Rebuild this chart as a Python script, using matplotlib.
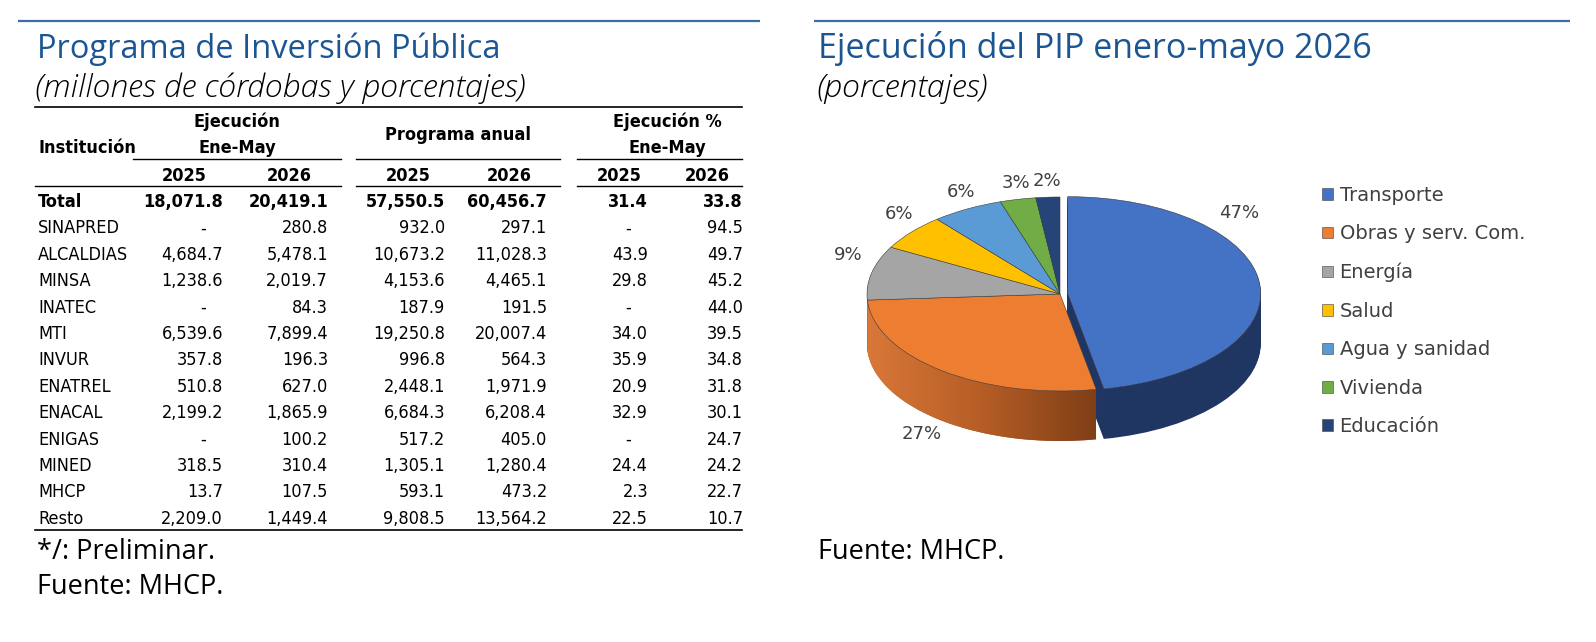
import os
import numpy as np
import matplotlib
matplotlib.use('Agg')
import matplotlib.pyplot as plt
from matplotlib import font_manager as fm
from matplotlib.patches import Polygon
from matplotlib.colors import LinearSegmentedColormap

# ---- datos de la tabla (millones de cordobas y porcentajes) ----
instituciones = ['Total', 'SINAPRED', 'ALCALDIAS', 'MINSA', 'INATEC', 'MTI', 'INVUR',
                 'ENATREL', 'ENACAL', 'ENIGAS', 'MINED', 'MHCP', 'Resto']
ejec_2025 = [18071.8, None, 4684.7, 1238.6, None, 6539.6, 357.8,
             510.8, 2199.2, None, 318.5, 13.7, 2209.0]
ejec_2026 = [20419.1, 280.8, 5478.1, 2019.7, 84.3, 7899.4, 196.3,
             627.0, 1865.9, 100.2, 310.4, 107.5, 1449.4]
prog_2025 = [57550.5, 932.0, 10673.2, 4153.6, 187.9, 19250.8, 996.8,
             2448.1, 6684.3, 517.2, 1305.1, 593.1, 9808.5]
prog_2026 = [60456.7, 297.1, 11028.3, 4465.1, 191.5, 20007.4, 564.3,
             1971.9, 6208.4, 405.0, 1280.4, 473.2, 13564.2]
pct_2025 = [31.4, None, 43.9, 29.8, None, 34.0, 35.9,
            20.9, 32.9, None, 24.4, 2.3, 22.5]
pct_2026 = [33.8, 94.5, 49.7, 45.2, 44.0, 39.5, 34.8,
            31.8, 30.1, 24.7, 24.2, 22.7, 10.7]
years = ['2025', '2026']

# ---- datos del pastel (porcentajes) ----
sectores = ['Transporte', 'Obras y serv. Com.', 'Energía', 'Salud',
            'Agua y sanidad', 'Vivienda', 'Educación']
participacion = [47, 27, 9, 6, 6, 3, 2]

# ---- estilo ----
W, H = 1596, 642
BLUE = '#1B5693'
RULE_BLUE = '#3A6EA5'
top_colors = ['#4472C4', '#ED7D31', '#A5A5A5', '#FFC000', '#5B9BD5', '#70AD47', '#264478']
wall_colors = ['#1F3562', '#B55E26', '#6E6E6E', '#B08500', '#3B6E9E', '#4C7A30', '#18294A']


def table_font():
  files = [os.path.basename(f.fname) for f in fm.fontManager.ttflist]
  names = {f.name for f in fm.fontManager.ttflist}
  if any('DejaVuSansCondensed' in f for f in files):
    return dict(family='DejaVu Sans', fontstretch='condensed'), 13
  if 'Liberation Sans Narrow' in names:
    return dict(family='Liberation Sans Narrow'), 14
  return dict(family='DejaVu Sans'), 11.5


def pick_weight(name, style, weight):
  # usa la variante pedida si esta instalada, si no la normal
  for f in fm.fontManager.ttflist:
    if f.name == name and f.style == style and f.weight == weight:
      return weight
  return 'normal'


def fmt(v):
  if v is None:
    return '-'
  return '{:,.1f}'.format(v)


TF, TSIZE = table_font()
HEAD = ['Open Sans', 'DejaVu Sans']
SUB_W = pick_weight('Open Sans', 'italic', 300)
TIT_W = pick_weight('Open Sans', 'normal', 500)

fig = plt.figure(figsize=(W / 100, H / 100), dpi=100)
ax = fig.add_axes([0, 0, 1, 1])
ax.set_xlim(0, W)
ax.set_ylim(H, 0)
ax.axis('off')

# lineas superiores azules
ax.plot([18, 760], [21, 21], color=RULE_BLUE, lw=1.6, solid_capstyle='butt')
ax.plot([814, 1570], [21, 21], color=RULE_BLUE, lw=1.6, solid_capstyle='butt')

# titulos
ax.text(37, 58, 'Programa de Inversión Pública', family=HEAD, fontsize=23.5,
        weight=TIT_W, color=BLUE, va='baseline')
ax.text(35, 97, '(millones de córdobas y porcentajes)', family=HEAD, fontsize=23,
        style='italic', weight=SUB_W, color='black', va='baseline')
ax.text(818, 58, 'Ejecución del PIP enero-mayo 2026', family=HEAD, fontsize=24.5,
        weight=TIT_W, color=BLUE, va='baseline')
ax.text(816, 97, '(porcentajes)', family=HEAD, fontsize=23,
        style='italic', weight=SUB_W, color='black', va='baseline')

# ---- tabla ----
col_right = [223, 328, 445, 547, 648, 743]
col_year = [184, 289, 408, 509, 619, 707]
groups = [('Ejecución\nEne-May', 237, (133, 341)),
          ('Programa anual', 458, (356, 560)),
          ('Ejecución %\nEne-May', 667, (577, 742))]

ax.plot([35, 742], [107, 107], color='black', lw=1.2)
ax.text(38, 153, 'Institución', fontsize=TSIZE, weight='bold', va='baseline', **TF)
for label, xc, (x0, x1) in groups:
  lines = label.split('\n')
  if len(lines) == 2:
    ax.text(xc, 127, lines[0], fontsize=TSIZE, weight='bold', ha='center', va='baseline', **TF)
    ax.text(xc, 153, lines[1], fontsize=TSIZE, weight='bold', ha='center', va='baseline', **TF)
  else:
    ax.text(xc, 140, label, fontsize=TSIZE, weight='bold', ha='center', va='baseline', **TF)
  ax.plot([x0, x1], [159, 159], color='black', lw=1.0)
  ax.plot([35 if x0 == 133 else x0, x1], [186, 186], color='black', lw=1.0)
for i, xc in enumerate(col_year):
  ax.text(xc, 181, years[i % 2], fontsize=TSIZE, weight='bold', ha='center', va='baseline', **TF)

columns = [ejec_2025, ejec_2026, prog_2025, prog_2026, pct_2025, pct_2026]
row_h = 26.4
for r, name in enumerate(instituciones):
  yb = 207 + r * row_h
  w = 'bold' if r == 0 else 'normal'
  ax.text(38, yb, name, fontsize=TSIZE, weight=w, va='baseline', **TF)
  for c, vals in enumerate(columns):
    v = vals[r]
    if v is None:
      ax.text(col_right[c] - 20, yb, '-', fontsize=TSIZE, weight=w, ha='center', va='baseline', **TF)
    else:
      ax.text(col_right[c], yb, fmt(v), fontsize=TSIZE, weight=w, ha='right', va='baseline', **TF)
ax.plot([35, 742], [530, 530], color='black', lw=1.2)

ax.text(37, 559, '*/: Preliminar.', family=HEAD, fontsize=19.5, va='baseline')
ax.text(37, 594, 'Fuente: MHCP.', family=HEAD, fontsize=19.5, va='baseline')
ax.text(818, 559, 'Fuente: MHCP.', family=HEAD, fontsize=19.5, va='baseline')

# ---- pastel 3D ----
px0, px1, py0, py1 = 830, 1290, 150, 480   # caja del eje en pixeles
cx, cy, rx, ry = 1060, 294, 193, 97        # centro y radios de la elipse
depth = 50 / ry
pax = fig.add_axes([px0 / W, 1 - py1 / H, (px1 - px0) / W, (py1 - py0) / H])
explode = [0.04] + [0] * (len(participacion) - 1)

for d in np.linspace(depth, 0.005, 50):
  pax.pie(participacion, explode=explode, colors=wall_colors, startangle=90,
          counterclock=False, center=(0, -d), wedgeprops=dict(linewidth=0))

# degradado en la pared de Obras y serv. Com.
frac = np.array(participacion) / sum(participacion)
edges = 90 - 360 * np.concatenate([[0], np.cumsum(frac)])
t = np.deg2rad(np.linspace(edges[2], edges[1], 80))
t = t[np.sin(t) < 0]
top_arc = np.column_stack([np.cos(t), np.sin(t)])
bot_arc = np.column_stack([np.cos(t[::-1]), np.sin(t[::-1]) - depth])
band = Polygon(np.vstack([top_arc, bot_arc]), closed=True, transform=pax.transData,
               facecolor='none', edgecolor='none')
pax.add_patch(band)
cmap = LinearSegmentedColormap.from_list('wall', ['#D97838', '#B65D26', '#7F3F16'])
grad = np.linspace(0, 1, 256).reshape(1, -1)
im = pax.imshow(grad, cmap=cmap, aspect='auto', origin='lower', interpolation='bilinear',
                extent=(top_arc[:, 0].min(), top_arc[:, 0].max(), -1 - depth, 0.1),
                zorder=1.01)
im.set_clip_path(band)

wedges, _ = pax.pie(participacion, explode=explode, colors=top_colors, startangle=90,
                    counterclock=False, center=(0, 0),
                    wedgeprops=dict(edgecolor='#404040', linewidth=0.4, zorder=1.02))

mid = 90 - 360 * (np.cumsum(frac) - frac / 2)
for i, (v, m) in enumerate(zip(participacion, mid)):
  a = np.deg2rad(m)
  r = 1.17
  if i == 0:
    a, r = np.deg2rad(42), 1.25   # Transporte arriba a la derecha, como en el original
  elif np.sin(a) > 0:
    a = np.deg2rad(90 + 0.9 * (m % 360 - 90))
  lx, ly = r * np.cos(a), r * np.sin(a)
  if ly < 0:
    ly -= depth
  pax.text(lx, ly, '{}%'.format(v), ha='center', va='center', fontsize=13,
           color='#404040', family='DejaVu Sans')

pax.set_aspect('auto')
pax.set_xlim((px0 - cx) / rx, (px1 - cx) / rx)
pax.set_ylim(-(py1 - cy) / ry, (cy - py0) / ry)

fig.legend(wedges, sectores, loc='upper left', bbox_to_anchor=(1322 / W, 1 - 186 / H),
           frameon=False, handlelength=0.55, handleheight=0.55,
           handletextpad=0.35, labelspacing=1.0, borderpad=0, borderaxespad=0,
           labelcolor='#404040', prop=dict(family='DejaVu Sans', size=14))

fig.savefig('out.png', dpi=100)
